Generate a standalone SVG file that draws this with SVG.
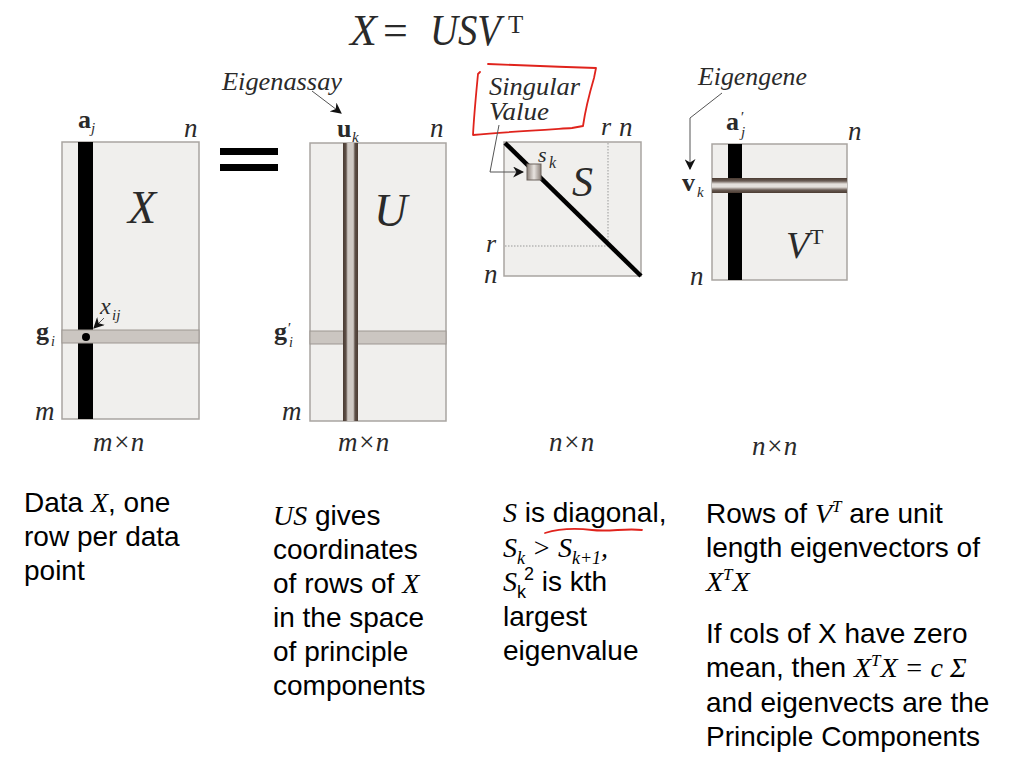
<svg xmlns="http://www.w3.org/2000/svg" width="1024" height="764" viewBox="0 0 1024 764">
<style>
.m{fill:#f0efed;stroke:#a9a5a1;stroke-width:1.5}
.band{fill:#cbc6c1;stroke:#9d9792;stroke-width:1}
.lab{font-family:"Liberation Serif","Times New Roman",serif;fill:#2a2a2a}
.it{font-style:italic}
.bd{font-weight:bold}
.txt{font-family:"Liberation Sans",Arial,sans-serif;font-size:28px;fill:#000}
.ser{font-family:"Liberation Serif","Times New Roman",serif;font-style:italic}
.con{fill:none;stroke:#555;stroke-width:1}
.red{fill:none;stroke:#e0231c;stroke-width:1.8;stroke-linecap:round;stroke-linejoin:round}
</style>
<defs>
<marker id="ah" viewBox="0 0 10 10" refX="9" refY="5" markerWidth="11" markerHeight="11" orient="auto" markerUnits="userSpaceOnUse">
<path d="M0,0 L10,5 L0,10 L3,5 z" fill="#111"/>
</marker>
<linearGradient id="gh" x1="0" y1="0" x2="1" y2="0">
<stop offset="0" stop-color="#4a3b32"/><stop offset="0.2" stop-color="#5e5048"/><stop offset="0.32" stop-color="#cfc9c4"/><stop offset="0.68" stop-color="#cfc9c4"/><stop offset="0.8" stop-color="#5e5048"/><stop offset="1" stop-color="#4a3b32"/>
</linearGradient>
<linearGradient id="gv" x1="0" y1="0" x2="0" y2="1">
<stop offset="0" stop-color="#4a3b32"/><stop offset="0.2" stop-color="#6a5c54"/><stop offset="0.4" stop-color="#e4e0dc"/><stop offset="0.6" stop-color="#e4e0dc"/><stop offset="0.8" stop-color="#6a5c54"/><stop offset="1" stop-color="#4a3b32"/>
</linearGradient>
<linearGradient id="gs" x1="0" y1="0" x2="1" y2="0">
<stop offset="0" stop-color="#8a7f78"/><stop offset="0.5" stop-color="#e8e4e0"/><stop offset="1" stop-color="#8a7f78"/>
</linearGradient>
</defs>
<rect width="1024" height="764" fill="#fff"/>

<g id="title" class="lab">
<text x="350" y="45" font-size="44" class="it">X</text>
<text x="383" y="45" font-size="44">=</text>
<text x="430" y="45" font-size="44" class="it" textLength="71" lengthAdjust="spacingAndGlyphs">USV</text>
<text x="508" y="33" font-size="25">T</text>
</g>

<g id="matrix-X">
<rect class="m" x="62" y="142" width="137" height="277"/>
<rect x="78" y="142" width="15" height="277" fill="#000"/>
<rect class="band" x="62" y="330" width="137" height="13"/>
<circle cx="86" cy="337" r="4" fill="#000"/>
<text class="lab it" x="128" y="223" font-size="46">X</text>
<text class="lab bd" x="78" y="128" font-size="26">a</text>
<text class="lab it" x="91" y="133" font-size="15">j</text>
<text class="lab it" x="184" y="137" font-size="27">n</text>
<text class="lab bd" x="36" y="340" font-size="26">g</text>
<text class="lab it" x="51" y="346" font-size="14">i</text>
<text class="lab it" x="35" y="420" font-size="27">m</text>
<text class="lab it" x="93" y="451" font-size="27">m×n</text>
<text class="lab it" x="100" y="314" font-size="24">x</text>
<text class="lab it" x="112" y="320" font-size="15">ij</text>
</g>

<g id="equals">
<rect x="220" y="148" width="58" height="7" fill="#000"/>
<rect x="220" y="164" width="58" height="7" fill="#000"/>
</g>

<g id="matrix-U">
<rect class="m" x="310" y="143" width="136" height="278"/>
<rect class="band" x="310" y="331" width="136" height="13"/>
<rect x="343" y="143" width="15" height="278" fill="url(#gh)"/>
<text class="lab it" x="374" y="226" font-size="46">U</text>
<text class="lab bd" x="337" y="137" font-size="26">u</text>
<text class="lab it" x="352" y="142" font-size="15">k</text>
<text class="lab it" x="430" y="137" font-size="27">n</text>
<text class="lab bd" x="274" y="340" font-size="26">g</text>
<text class="lab it" x="287" y="333" font-size="15">′</text>
<text class="lab it" x="289" y="347" font-size="14">i</text>
<text class="lab it" x="282" y="420" font-size="27">m</text>
<text class="lab it" x="338" y="451" font-size="27">m×n</text>
<text class="lab it" x="222" y="90" font-size="25" textLength="120" lengthAdjust="spacingAndGlyphs">Eigenassay</text>
</g>

<g id="matrix-S">
<rect class="m" x="504" y="142" width="137" height="134"/>
<line x1="608" y1="143" x2="608" y2="246" stroke="#999" stroke-width="1" stroke-dasharray="1.5,1.5"/>
<line x1="505" y1="246" x2="608" y2="246" stroke="#999" stroke-width="1" stroke-dasharray="1.5,1.5"/>
<line x1="505" y1="143" x2="641" y2="276" stroke="#000" stroke-width="4.5"/>
<rect x="527" y="164" width="14" height="16" fill="url(#gs)" stroke="#6d645e" stroke-width="1"/>
<text class="lab it" x="572" y="196" font-size="42">S</text>
<text class="lab it" x="538" y="162" font-size="22">s</text>
<text class="lab it" x="549" y="168" font-size="16">k</text>
<text class="lab it" x="601" y="135" font-size="26">r</text>
<text class="lab it" x="619" y="136" font-size="27">n</text>
<text class="lab it" x="486" y="252" font-size="26">r</text>
<text class="lab it" x="484" y="283" font-size="27">n</text>
<text class="lab it" x="549" y="451" font-size="27">n×n</text>
<text class="lab it" x="489" y="95" font-size="25" textLength="91" lengthAdjust="spacingAndGlyphs">Singular</text>
<text class="lab it" x="489" y="120" font-size="25" textLength="60" lengthAdjust="spacingAndGlyphs">Value</text>
<path class="red" d="M480,72 L478,74 M488,64 C520,65 560,67 596,68 L594,78 C589,95 585,112 583,126 L572,128 C540,130 505,132 473,135 C474,115 476,95 478,74"/>
</g>

<g id="matrix-VT">
<rect class="m" x="712" y="144" width="135" height="136"/>
<rect x="728" y="144" width="14" height="136" fill="#000"/>
<rect x="712" y="178" width="135" height="15" fill="url(#gv)"/>
<text class="lab it" x="786" y="258" font-size="38">V</text>
<text class="lab" x="810" y="244" font-size="22">T</text>
<text class="lab bd" x="726" y="130" font-size="26">a</text>
<text class="lab it" x="740" y="122" font-size="15">′</text>
<text class="lab it" x="741" y="137" font-size="15">j</text>
<text class="lab it" x="848" y="140" font-size="27">n</text>
<text class="lab bd" x="682" y="191" font-size="26">v</text>
<text class="lab it" x="697" y="197" font-size="15">k</text>
<text class="lab it" x="690" y="285" font-size="27">n</text>
<text class="lab it" x="752" y="455" font-size="27">n×n</text>
<text class="lab it" x="698" y="85" font-size="25" textLength="109" lengthAdjust="spacingAndGlyphs">Eigengene</text>
</g>

<g id="connectors">
<line class="con" x1="312" y1="91" x2="341" y2="113" marker-end="url(#ah)"/>
<polyline class="con" points="499,125 490,172 523,172" marker-end="url(#ah)"/>
<polyline class="con" points="722,93 690,118 690,169" marker-end="url(#ah)"/>
<line class="con" x1="104" y1="318" x2="94" y2="328" marker-end="url(#ah)"/>
</g>

<g id="text-data">
<text class="txt" x="24" y="512">Data <tspan class="ser">X</tspan>, one</text>
<text class="txt" x="24" y="546">row per data</text>
<text class="txt" x="24" y="580">point</text>
</g>

<g id="text-US">
<text class="txt" x="273" y="525"><tspan class="ser">US</tspan> gives</text>
<text class="txt" x="273" y="559">coordinates</text>
<text class="txt" x="273" y="593">of rows of <tspan class="ser">X</tspan></text>
<text class="txt" x="273" y="627">in the space</text>
<text class="txt" x="273" y="661">of principle</text>
<text class="txt" x="273" y="695">components</text>
</g>

<g id="text-S">
<text class="txt" x="503" y="522"><tspan class="ser">S</tspan> is diagonal,</text>
<text class="txt" x="503" y="557"><tspan class="ser">S</tspan><tspan class="ser" font-size="18" dy="7">k</tspan><tspan class="ser" dy="-7"> &gt; S</tspan><tspan class="ser" font-size="18" dy="7">k+1</tspan><tspan class="ser" dy="-7">,</tspan></text>
<text class="txt" x="503" y="591"><tspan class="ser">S</tspan><tspan font-size="18" dy="7">k</tspan><tspan font-size="18" dx="-2" dy="-18">2</tspan><tspan dy="11"> is kth</tspan></text>
<text class="txt" x="503" y="626">largest</text>
<text class="txt" x="503" y="660">eigenvalue</text>
<path class="red" d="M545,533 C558,529 575,528 592,530 C610,532 625,528 642,530"/>
</g>

<g id="text-V">
<text class="txt" x="706" y="523">Rows of <tspan class="ser">V</tspan><tspan class="ser" font-size="17" dy="-11">T</tspan><tspan dy="11"> are unit</tspan></text>
<text class="txt" x="706" y="557">length eigenvectors of</text>
<text class="txt" x="706" y="591"><tspan class="ser">X</tspan><tspan class="ser" font-size="17" dy="-11">T</tspan><tspan class="ser" dy="11">X</tspan></text>
<text class="txt" x="706" y="643">If cols of X have zero</text>
<text class="txt" x="706" y="677">mean, then <tspan class="ser">X</tspan><tspan class="ser" font-size="17" dy="-11">T</tspan><tspan class="ser" dy="11">X = c Σ</tspan></text>
<text class="txt" x="706" y="712">and eigenvects are the</text>
<text class="txt" x="706" y="746">Principle Components</text>
</g>
</svg>
